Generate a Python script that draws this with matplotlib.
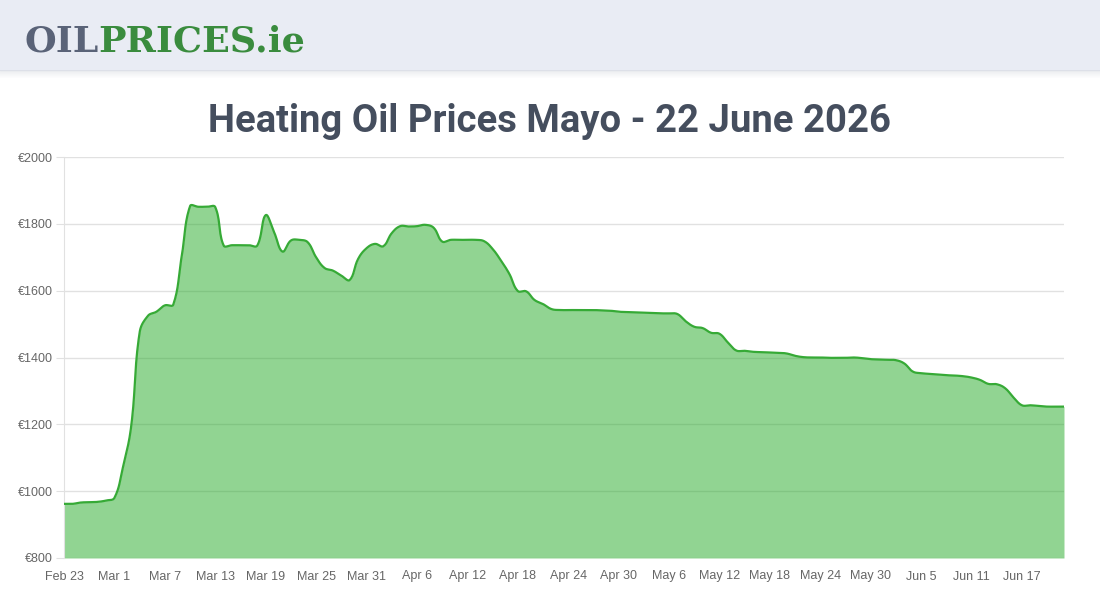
import datetime as dt

import numpy as np
import matplotlib
matplotlib.use('Agg')
import matplotlib.pyplot as plt
from matplotlib import font_manager
from matplotlib.patches import Rectangle

# daily Mayo heating oil prices (EUR), starting Feb 23
start = dt.date(2026, 2, 23)
prices = [
    962, 962, 966, 967, 968, 972, 980, 1070, 1195, 1475,
    1525, 1537, 1556, 1558, 1702, 1853, 1851, 1851, 1850, 1735,
    1736, 1736, 1736, 1735, 1826, 1775, 1717, 1750, 1752, 1745,
    1700, 1668, 1660, 1645, 1632, 1695, 1727, 1740, 1733, 1772,
    1793, 1792, 1793, 1797, 1788, 1747, 1752, 1752, 1752, 1752,
    1748, 1725, 1690, 1650, 1599, 1598, 1572, 1560, 1545, 1542,
    1542, 1542, 1542, 1542, 1541, 1540, 1537, 1536, 1535, 1534,
    1533, 1532, 1532, 1530, 1508, 1492, 1488, 1474, 1471, 1445,
    1421, 1420, 1417, 1416, 1415, 1414, 1412, 1405, 1401, 1400,
    1400, 1399, 1399, 1399, 1400, 1398, 1395, 1394, 1393, 1392,
    1382, 1358, 1353, 1351, 1349, 1347, 1346, 1344, 1340, 1333,
    1321, 1320, 1308, 1280, 1257, 1257, 1255, 1253, 1253, 1253,
]
y_ticks = [800, 1000, 1200, 1400, 1600, 1800, 2000]
tick_step = 6

title = 'Heating Oil Prices Mayo - 22 June 2026'

days = np.arange(len(prices))
dates = [start + dt.timedelta(days=int(i)) for i in days]
x_ticks = days[::tick_step]
x_labels = [f'{dates[i]:%b} {dates[i].day}' for i in x_ticks]


def pick_font(*names):
    have = {f.name for f in font_manager.fontManager.ttflist}
    for n in names:
        if n in have:
            return n
    return 'DejaVu Sans'


def smooth(xs, ys, sx, sy, tension=0.4, steps=16):
    # bezier spline like the chart.js line tension
    p = np.column_stack([np.asarray(xs, float) * sx, np.asarray(ys, float) * sy])
    n = len(p)
    cprev = np.zeros_like(p)
    cnext = np.zeros_like(p)
    for i in range(n):
        p0 = p[max(i - 1, 0)]
        p1 = p[i]
        p2 = p[min(i + 1, n - 1)]
        d01 = np.hypot(*(p1 - p0))
        d12 = np.hypot(*(p2 - p1))
        tot = d01 + d12
        s01 = d01 / tot if tot else 0
        s12 = d12 / tot if tot else 0
        cprev[i] = p1 - tension * s01 * (p2 - p0)
        cnext[i] = p1 + tension * s12 * (p2 - p0)
    t = np.linspace(0, 1, steps, endpoint=False)[:, None]
    segs = []
    for i in range(n - 1):
        a, b, c, d = p[i], cnext[i], cprev[i + 1], p[i + 1]
        segs.append((1 - t) ** 3 * a + 3 * (1 - t) ** 2 * t * b
                    + 3 * (1 - t) * t ** 2 * c + t ** 3 * d)
    segs.append(p[-1:])
    out = np.vstack(segs)
    return out[:, 0] / sx, out[:, 1] / sy


W, H = 1100, 600
fig = plt.figure(figsize=(W / 100, H / 100), dpi=100)

# header band with soft shadow
fig.patches.append(Rectangle((0, 1 - 70 / H), 1, 70 / H, transform=fig.transFigure,
                             color='#e9ecf4', zorder=0))
for k in range(8):
    fig.patches.append(Rectangle((0, 1 - (71 + k) / H), 1, 1 / H, transform=fig.transFigure,
                                 color='#c8ccd4', alpha=0.35 * (1 - k / 8), lw=0, zorder=0))

sans = pick_font('Liberation Sans', 'Arial', 'DejaVu Sans')
narrow = pick_font('Liberation Sans Narrow', 'DejaVu Sans Condensed', 'Roboto', 'DejaVu Sans')
serif = pick_font('DejaVu Serif', 'Liberation Serif')

fig.canvas.draw()
renderer = fig.canvas.get_renderer()


def fit(txt, width_px):
    bb = txt.get_window_extent(renderer)
    txt.set_fontsize(txt.get_fontsize() * width_px / bb.width)


# logo
logo_y = 1 - 51 / H
t1 = fig.text(24 / W, logo_y, 'OIL', family=serif, weight='heavy', color='#5a6378',
              fontsize=22, va='baseline')
fit(t1, 74)
t2 = fig.text(98 / W, logo_y, 'PRICES.ie', family=serif, weight='heavy', color='#3a8c3e',
              fontsize=22, va='baseline')
fit(t2, 206)

# title
tt = fig.text(0.5, 1 - 132 / H, title, family=narrow, weight='bold', color='#454e5e',
              fontsize=30, ha='center', va='baseline')
fit(tt, 684)

ax = fig.add_axes([64 / W, 42 / H, 1000 / W, 401 / H])
xs, ys = smooth(days, prices, 1000 / (len(prices) - 1), 401 / 1200)
ax.fill_between(xs, y_ticks[0], ys, color=(0.14, 0.67, 0.15), alpha=0.5, lw=0, zorder=2)
ax.plot(xs, ys, color='#36aa36', lw=1.6, zorder=3)

ax.set_xlim(days[0], days[-1])
ax.set_ylim(y_ticks[0], y_ticks[-1])
ax.set_yticks(y_ticks)
ax.set_yticklabels([f'€{v}' for v in y_ticks])
ax.set_xticks(x_ticks)
ax.set_xticklabels(x_labels)
ax.set_axisbelow(True)
ax.yaxis.grid(True, color='#e1e1e1', lw=1)
for s in ['top', 'right', 'bottom']:
    ax.spines[s].set_visible(False)
ax.spines['left'].set_color('#e1e1e1')
ax.tick_params(axis='y', length=6, color='#e1e1e1', labelcolor='#666666',
               labelsize=9, pad=2)
ax.tick_params(axis='x', length=0, labelcolor='#666666', labelsize=9, pad=9)
for lab in ax.get_xticklabels() + ax.get_yticklabels():
    lab.set_family(sans)

fig.savefig('out.png', dpi=100)
